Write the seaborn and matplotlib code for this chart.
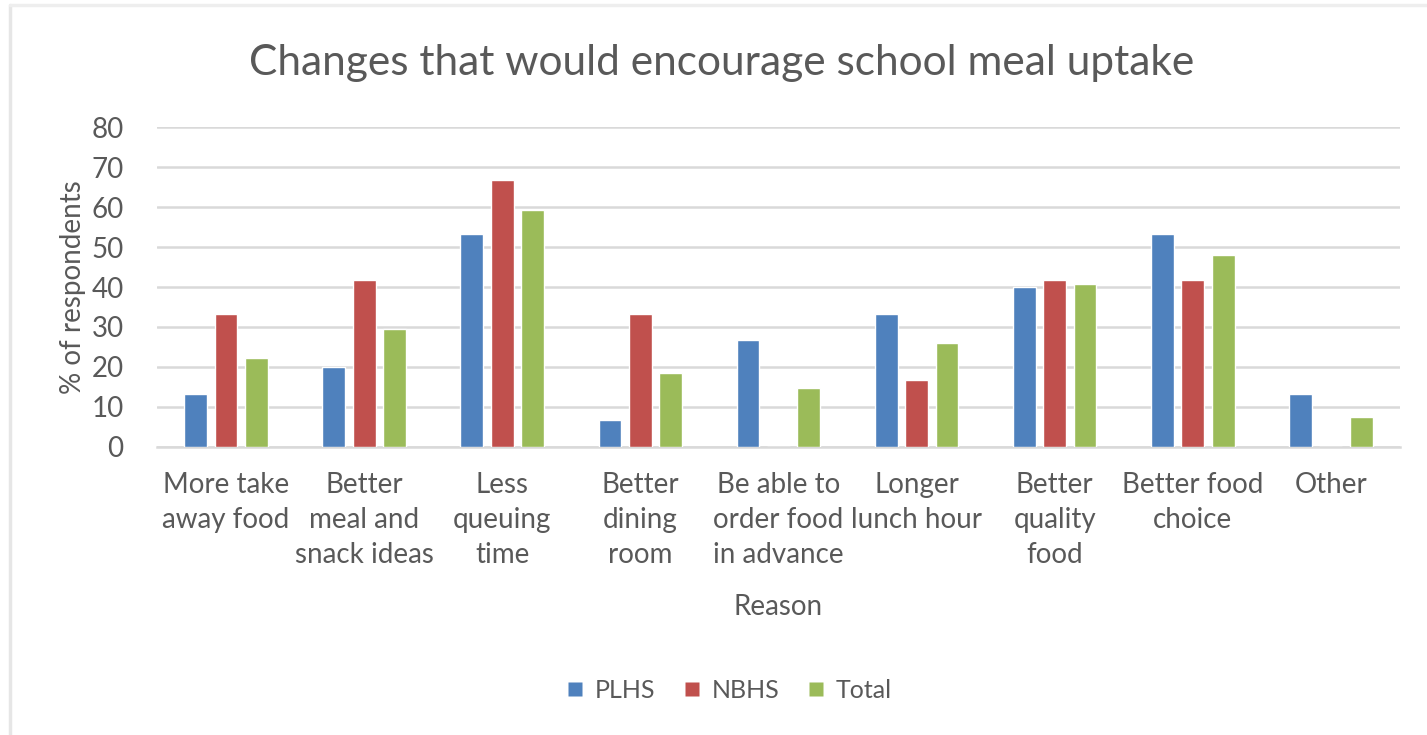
import matplotlib
matplotlib.use("Agg")
import matplotlib.pyplot as plt
from matplotlib.lines import Line2D
import pandas as pd
import seaborn as sns

# Survey results: share of respondents choosing each change
reasons = [
    "More take\naway food",
    "Better\nmeal and\nsnack ideas",
    "Less\nqueuing\ntime",
    "Better\ndining\nroom",
    "Be able to\norder food\nin advance",
    "Longer\nlunch hour",
    "Better\nquality\nfood",
    "Better food\nchoice",
    "Other",
]
plhs = [13.3, 20.0, 53.3, 6.7, 26.7, 33.3, 40.0, 53.3, 13.3]
nbhs = [33.3, 41.7, 66.7, 33.3, 0.0, 16.7, 41.7, 41.7, 0.0]
total = [22.2, 29.6, 59.3, 18.5, 14.8, 25.9, 40.7, 48.1, 7.4]
groups = ["PLHS", "NBHS", "Total"]
yticks = [0, 10, 20, 30, 40, 50, 60, 70, 80]

colors = {"PLHS": "#4F81BD", "NBHS": "#C0504D", "Total": "#9BBB59"}
text_color = "#595959"
grid_color = "#D9D9D9"

df = pd.DataFrame({
    "Reason": reasons * 3,
    "School": [g for g in groups for _ in reasons],
    "Percent": plhs + nbhs + total,
})

sns.set_theme(style="white")
plt.rcParams["font.family"] = ["Lato", "DejaVu Sans"]

fig = plt.figure(figsize=(14.27, 7.35), dpi=100)
ax = fig.add_axes([0.110, 0.392, 0.871, 0.435])

sns.barplot(
    data=df, x="Reason", y="Percent", hue="School",
    order=reasons, hue_order=groups, palette=colors,
    width=0.66, gap=0.25, saturation=1, errorbar=None,
    legend=False, ax=ax, zorder=3,
)

ax.set_ylim(0, 80)
ax.set_yticks(yticks)
ax.set_yticklabels([str(t) for t in yticks], fontsize=20, color=text_color)
ax.tick_params(axis="x", length=0, pad=18, labelsize=20, labelcolor=text_color)
ax.tick_params(axis="y", length=0, pad=24)
for lbl in ax.get_xticklabels():
    lbl.set_linespacing(1.42)
    lbl.set_verticalalignment("top")
ax.yaxis.grid(True, color=grid_color, linewidth=1.8, zorder=0)
ax.set_axisbelow(True)
for side in ["top", "right", "left"]:
    ax.spines[side].set_visible(False)
ax.spines["bottom"].set_color(grid_color)
ax.spines["bottom"].set_linewidth(1.8)

ax.set_xlabel("Reason", fontsize=20, color=text_color, labelpad=19)
ax.set_ylabel("% of respondents", fontsize=20, color=text_color, labelpad=4)

fig.text(0.506, 0.914, "Changes that would encourage school meal uptake",
         ha="center", va="center", fontsize=30.5, color=text_color)

# square legend keys
handles = [Line2D([], [], marker="s", linestyle="none", markersize=9.5,
                  markerfacecolor=colors[g], markeredgecolor="none", label=g)
           for g in groups]
fig.legend(handles=handles, loc="center", bbox_to_anchor=(0.511, 0.061), ncol=3,
           frameon=False, fontsize=18, handlelength=0.7,
           handletextpad=0.45, columnspacing=1.1, labelcolor=text_color)

# light outer frame of the chart area
fig.add_artist(Line2D([0.007, 0.007], [0.0, 0.993], color="#E6E6E6", lw=2.5))
fig.add_artist(Line2D([0.007, 1.0], [0.993, 0.993], color="#EEEEEE", lw=2.5))

fig.savefig("out.png", dpi=100, facecolor="white")
